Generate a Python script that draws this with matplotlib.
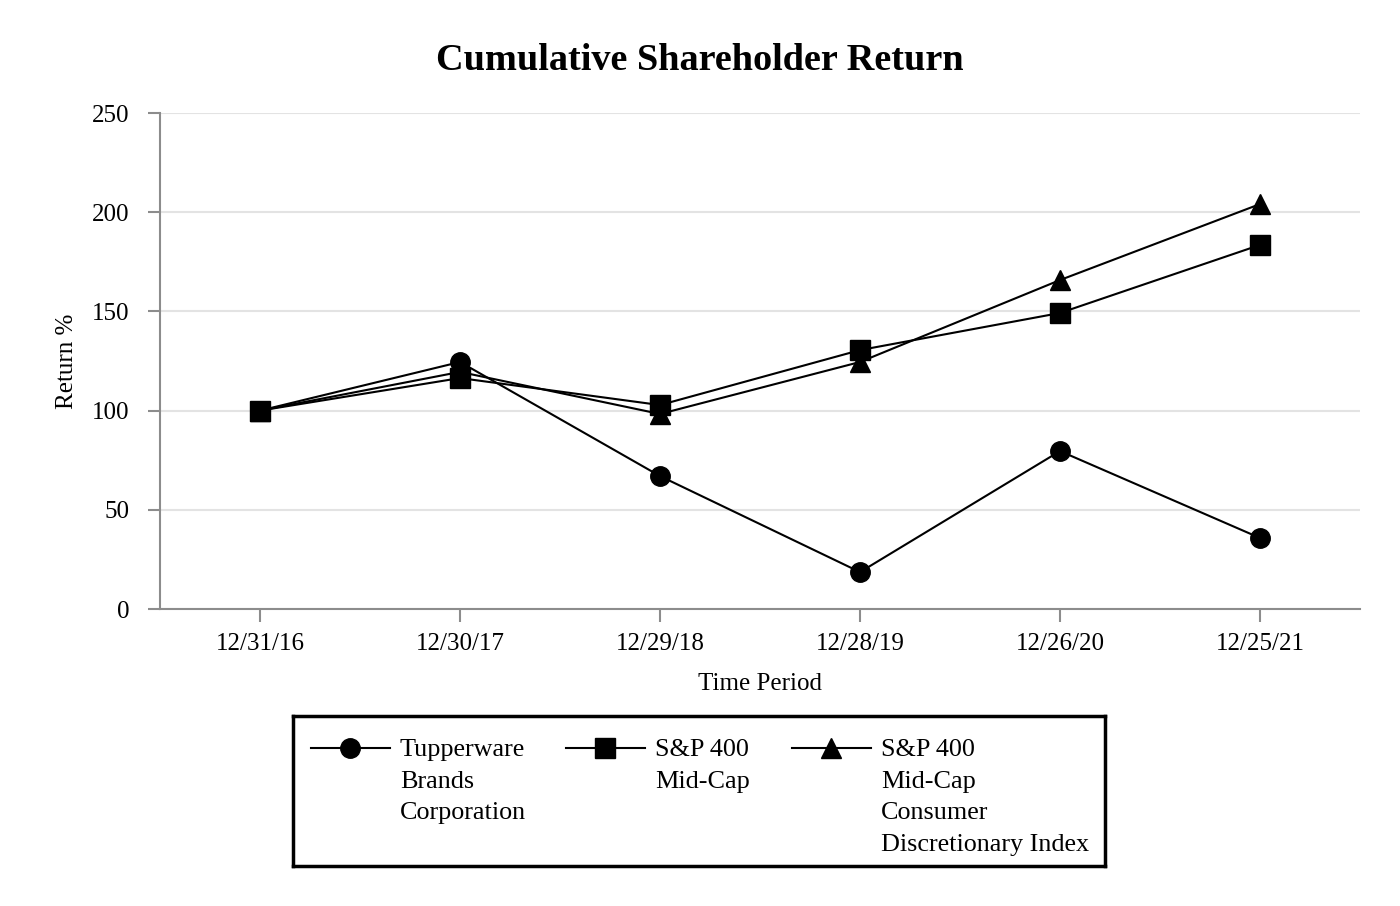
import matplotlib
matplotlib.use("Agg")
import matplotlib.pyplot as plt
from matplotlib.lines import Line2D

# ==============================
# DATA
# ==============================
periods = ["12/31/16", "12/30/17", "12/29/18", "12/28/19", "12/26/20", "12/25/21"]

tupperware = [100, 124.5, 67.0, 18.6, 79.6, 35.8]
sp400 = [100, 116.4, 102.8, 130.5, 149.2, 183.5]
sp400_consumer = [100, 119.5, 98.3, 124.5, 165.8, 204.1]

series_labels = [
    "Tupperware\nBrands\nCorporation",
    "S&P 400\nMid-Cap",
    "S&P 400\nMid-Cap\nConsumer\nDiscretionary Index",
]
series_markers = ["o", "s", "^"]
y_ticks = [0, 50, 100, 150, 200, 250]

plt.rcParams["font.family"] = ["Liberation Serif", "DejaVu Serif"]

W, H = 1400, 906
fig = plt.figure(figsize=(W / 100, H / 100), dpi=100)

# -------- main chart --------
ax = fig.add_axes([160 / W, 1 - 609 / H, 1200 / W, 496 / H])
x = list(range(len(periods)))
for vals, mk, ms in zip([tupperware, sp400, sp400_consumer], series_markers, [14, 14, 15]):
    ax.plot(x, vals, color="black", linewidth=1.5, marker=mk, markersize=ms,
            zorder=3)

ax.set_xlim(-0.5, len(periods) - 0.5)
ax.set_ylim(0, 250)
ax.set_yticks(y_ticks)
ax.set_xticks(x)
ax.set_xticklabels(periods)
ax.tick_params(axis="both", labelsize=18, color="#8c8c8c", width=1.5, length=9)
ax.tick_params(axis="y", pad=13)
ax.tick_params(axis="x", pad=8)

for s in ["top", "right"]:
    ax.spines[s].set_visible(False)
for s in ["left", "bottom"]:
    ax.spines[s].set_color("#8c8c8c")
    ax.spines[s].set_linewidth(1.5)

ax.grid(axis="y", color="#e3e3e3", linewidth=1.5, zorder=0)
ax.set_axisbelow(True)

ax.set_xlabel("Time Period", fontsize=18, labelpad=13)
ax.set_ylabel("Return %", fontsize=18, labelpad=10)

fig.text(0.5, 1 - 60 / H, "Cumulative Shareholder Return", ha="center", va="center",
         fontsize=27.5, fontweight="bold")

# -------- legend box (built by hand so labels top-align) --------
lx0, lx1, ly0, ly1 = 293, 1105, 716, 866
lax = fig.add_axes([lx0 / W, 1 - ly1 / H, (lx1 - lx0) / W, (ly1 - ly0) / H])
lax.set_xlim(lx0, lx1)
lax.set_ylim(ly1, ly0)
lax.set_xticks([])
lax.set_yticks([])
for s in lax.spines.values():
    s.set_linewidth(2.5)
    s.set_color("black")

col_x = [311, 566, 792]
for cx, mk, lab in zip(col_x, series_markers, series_labels):
    lax.add_line(Line2D([cx, cx + 79], [748, 748], color="black", linewidth=1.5))
    lax.add_line(Line2D([cx + 39], [748], color="black", marker=mk,
                        markersize=14 if mk != "^" else 15, linestyle="none"))
    lax.text(cx + 89, 739, lab, fontsize=18.8, va="top", ha="left", linespacing=1.57)

fig.savefig("out.png", dpi=100)
